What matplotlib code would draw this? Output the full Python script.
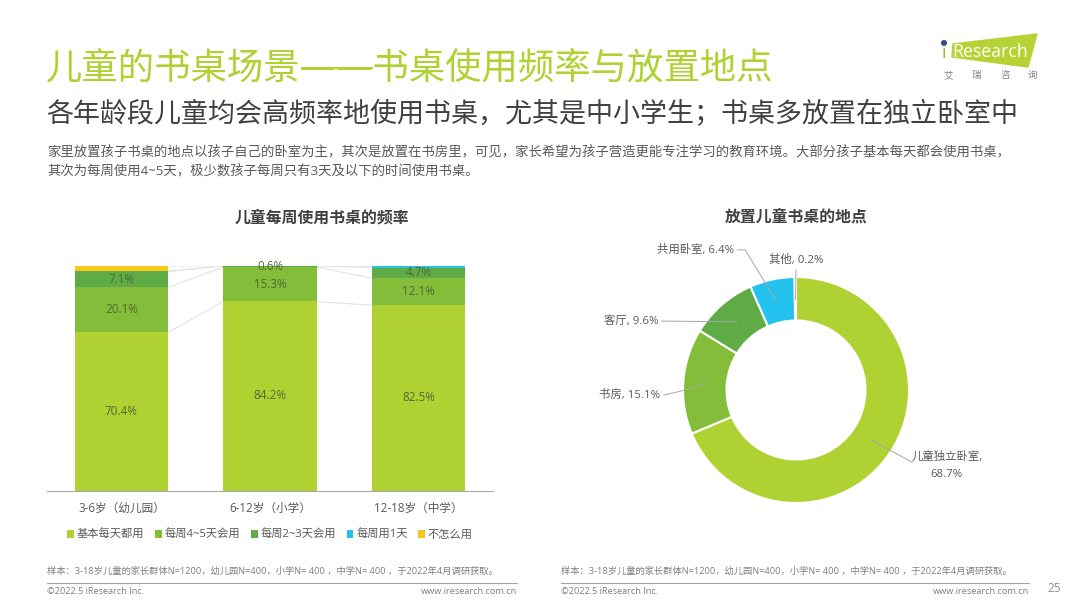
import numpy as np
import matplotlib
matplotlib.use('Agg')
import matplotlib.pyplot as plt
from matplotlib.patches import Polygon, Circle

plt.rcParams['font.family'] = ['Open Sans', 'Noto Sans CJK SC', 'DejaVu Sans']

# stacked bars
age_groups = ['3-6岁（幼儿园）', '6-12岁（小学）', '12-18岁（中学）']
freq_names = ['基本每天都用', '每周4~5天会用', '每周2~3天会用', '每周用1天', '不怎么用']
daily = [70.4, 84.2, 82.5]
days_4_5 = [20.1, 15.3, 12.1]
days_2_3 = [7.1, 0.6, 4.7]
days_1 = [0.0, 0.0, 0.7]
rarely = [2.4, 0.0, 0.0]
bar_labels = [['70.4%', '84.2%', '82.5%'], ['20.1%', '15.3%', '12.1%'], ['7.1%', '0.6%', '4.7%']]

# donut
place_names = ['儿童独立卧室,\n68.7%', '书房, 15.1%', '客厅, 9.6%', '共用卧室, 6.4%', '其他, 0.2%']
place_vals = [68.7, 15.1, 9.6, 6.4, 0.2]

LIME = '#AFD232'
GREEN2 = '#84BD3A'
GREEN3 = '#5FAB45'
BLUE = '#22C1EE'
YELLOW = '#F7C81E'
TXT = '#595959'
W, H = 1080, 607


def px_axes(fig, x0, y0, x1, y1):
    return fig.add_axes([x0 / W, 1 - y1 / H, (x1 - x0) / W, (y1 - y0) / H])


def draw_bars(ax):
    series = [daily, days_4_5, days_2_3, days_1, rarely]
    colors = [LIME, GREEN2, GREEN3, BLUE, YELLOW]
    x = np.arange(3)
    width = 0.63
    bottom = np.zeros(3)
    for vals, col, name in zip(series, colors, freq_names):
        ax.bar(x, vals, width, bottom=bottom, color=col, label=name, zorder=2)
        top = bottom + np.array(vals)
        # thin connector lines between the bars
        for i in range(2):
            ax.plot([i + width / 2, i + 1 - width / 2], [top[i], top[i + 1]],
                    color='#E3E3E3', lw=0.8, zorder=1)
        bottom = top
    cum = np.zeros(3)
    for vals, labels in zip(series[:3], bar_labels):
        for i in range(3):
            ax.text(i, cum[i] + vals[i] / 2, labels[i], ha='center', va='center',
                    fontsize=8.4, color='#4F6B35', zorder=3)
        cum = cum + np.array(vals)
    ax.set_xlim(-0.5, 2.5)
    ax.set_ylim(0, 100)
    ax.set_xticks(x)
    ax.set_xticklabels(age_groups, fontsize=8.4, color=TXT)
    ax.tick_params(axis='x', length=0, pad=8)
    ax.set_yticks([])
    for s in ['top', 'left', 'right']:
        ax.spines[s].set_visible(False)
    ax.spines['bottom'].set_color('#A6A6A6')
    ax.spines['bottom'].set_linewidth(0.8)
    ax.legend(loc='center', bbox_to_anchor=(0.5, -0.2), ncol=5, frameon=False,
              fontsize=8.1, labelcolor=TXT, handlelength=0.6, handleheight=0.6,
              handletextpad=0.25, columnspacing=0.95, borderpad=0)


def draw_donut(ax):
    colors = [LIME, GREEN2, GREEN3, BLUE, YELLOW]
    ax.pie(place_vals, colors=colors, startangle=90, counterclock=False, radius=1,
           wedgeprops=dict(width=0.385, edgecolor='white', linewidth=1.5))
    ax.set_xlim(-1.6, 1.6)
    ax.set_ylim(-1.6, 1.6)
    # leader lines start inside each slice, then go to hand placed labels
    elbows = [(1.03, -0.64), (-0.98, 0.0), (-1.19, 0.61), (-0.45, 1.24), (0.0, 1.06)]
    ends = [(1.03, -0.64), (-1.17, -0.045), (-1.19, 0.61), (-0.52, 1.24), (0.0, 1.06)]
    text_xy = [(1.336, -0.67), (-1.2, -0.05), (-1.22, 0.61), (-0.55, 1.24), (0.0, 1.15)]
    aligns = ['center', 'right', 'right', 'right', 'center']
    cum = 0
    for val, name, elbow, end, txt, al in zip(place_vals, place_names, elbows, ends, text_xy, aligns):
        ang = np.deg2rad(90 - (cum + val / 2) * 3.6)
        r = 0.8
        ax.plot([r * np.cos(ang), elbow[0], end[0]], [r * np.sin(ang), elbow[1], end[1]],
                color='#A6A6A6', lw=0.7)
        ax.text(txt[0], txt[1], name, ha=al, va='center',
                fontsize=8.2, color=TXT, linespacing=1.75)
        cum += val


def draw_page(bg):
    bg.set_xlim(0, W)
    bg.set_ylim(H, 0)
    bg.axis('off')
    bg.text(46, 69, '儿童的书桌场景——书桌使用频率与放置地点', fontsize=26.2, color=LIME,
            va='center', weight='light')
    # the dash in the font is thin and broken, the original one is solid
    bg.plot([301, 373], [67.5, 67.5], color=LIME, lw=1.4, solid_capstyle='butt')
    bg.text(46, 115, '各年龄段儿童均会高频率地使用书桌，尤其是中小学生；书桌多放置在独立卧室中',
            fontsize=19.45, color='#404040', va='center')
    bg.text(47, 153, '家里放置孩子书桌的地点以孩子自己的卧室为主，其次是放置在书房里，可见，家长希望为孩子营造更能专注学习的教育环境。大部分孩子基本每天都会使用书桌，',
            fontsize=9.6, color=TXT, va='center')
    bg.text(47, 172, '其次为每周使用4~5天，极少数孩子每周只有3天及以下的时间使用书桌。',
            fontsize=9.6, color=TXT, va='center')
    bg.text(322, 218, '儿童每周使用书桌的频率', fontsize=11.4, weight='bold', color='#404040',
            ha='center', va='center')
    bg.text(796, 218, '放置儿童书桌的地点', fontsize=11.4, weight='bold', color='#404040',
            ha='center', va='center')

    note = '样本：3-18岁儿童的家长群体N=1200，幼儿园N=400，小学N= 400 ，中学N= 400 ，于2022年4月调研获取。'
    for x0, x1 in [(47, 517), (561, 1029)]:
        bg.text(x0, 571, note, fontsize=6.7, color='#7F7F7F', va='center')
        bg.plot([x0, x1], [583, 583], color='#A6A6A6', lw=0.8)
        bg.text(x0, 591.5, '©2022.5 iResearch Inc.', fontsize=6.6, color='#7F7F7F', va='center')
        bg.text(x1, 591.5, 'www.iresearch.com.cn', fontsize=6.6, color='#7F7F7F', va='center', ha='right')
    bg.text(1054, 589, '25', fontsize=8.5, color='#8C8C8C', ha='center', va='center')

    # logo
    bg.add_patch(Polygon([(953, 44), (1037, 34), (1028, 67), (952, 57)], closed=True, color='#B5D334'))
    bg.add_patch(Circle((944, 43), 2.3, color='#2F4A8C'))
    bg.text(941.5, 53, 'i', fontsize=13, color='#9DBE2D', va='center')
    bg.text(952, 52, 'Research', fontsize=12.8, color='white', va='center')
    for cx, ch in zip([948, 976, 1005, 1032], '艾瑞咨询'):
        bg.text(cx, 75.5, ch, fontsize=6.8, color='#7F7F7F', ha='center', va='center')


def main():
    fig = plt.figure(figsize=(10.8, 6.07), dpi=100)
    bg = px_axes(fig, 0, 0, W, H)
    draw_page(bg)
    bar_ax = px_axes(fig, 47, 266, 493, 490.5)
    draw_bars(bar_ax)
    r_px = 113
    span = 1.6 * r_px
    pie_ax = px_axes(fig, 796 - span, 390 - span, 796 + span, 390 + span)
    draw_donut(pie_ax)
    fig.savefig('out.png', dpi=100)


if __name__ == '__main__':
    main()
